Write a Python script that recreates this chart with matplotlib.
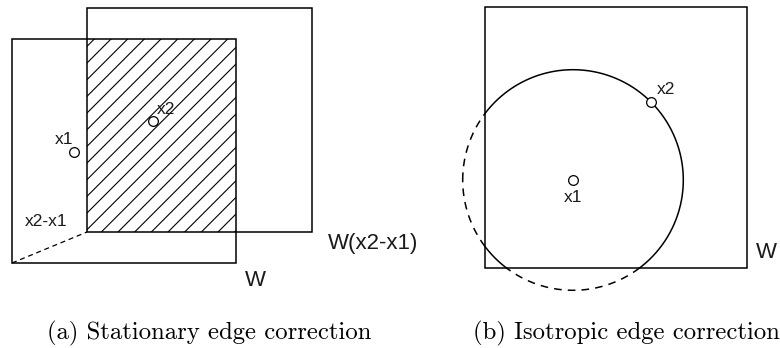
import numpy as np
import matplotlib
matplotlib.use("Agg")
import matplotlib.pyplot as plt
from matplotlib.patches import Rectangle

plt.rcParams['hatch.linewidth'] = 0.8

# left diagram: window W and its translate W(x2-x1), as (x0, y0, x1, y1) in pixels
win_w = [12, 39, 236, 263]
win_shift = [87, 8, 312, 232]
pt_a1 = (74, 152)
pt_a2 = (153, 121)

# right diagram: window, centre x1 and neighbour x2 on the circle
win_b = [485, 7, 747, 268]
pt_b1 = (573, 180)
pt_b2 = (651, 102)

captions = ["(a) Stationary edge correction", "(b) Isotropic edge correction"]
caption_x = [209, 626]

fig = plt.figure(figsize=(7.8, 3.48), dpi=100)
ax = fig.add_axes([0, 0, 1, 1])
ax.set_xlim(0, 780)
ax.set_ylim(348, 0)
ax.set_axis_off()

lab = dict(family='Liberation Sans', color='#1a1a1a', ha='center', va='center')
small = 12.5
big = 16


def box(r, **kw):
    ax.add_patch(Rectangle((r[0], r[1]), r[2] - r[0], r[3] - r[1],
                           fill=False, edgecolor='black', lw=1.1, **kw))


def point(p):
    ax.plot(*p, 'o', mfc='white', mec='black', ms=7, mew=0.9, zorder=5)


# --- stationary correction ---
box(win_w)
box(win_shift)
ix0, iy0 = max(win_w[0], win_shift[0]), max(win_w[1], win_shift[1])
ix1, iy1 = min(win_w[2], win_shift[2]), min(win_w[3], win_shift[3])
ax.add_patch(Rectangle((ix0, iy0), ix1 - ix0, iy1 - iy0, fill=False,
                       hatch='//', edgecolor='black', lw=0))
# translation vector from corner of W to corner of W(x2-x1)
ax.plot([win_w[0], win_shift[0]], [win_w[3], win_shift[3]], 'k--', lw=0.9,
        dashes=(4, 3))
point(pt_a1)
point(pt_a2)
ax.text(pt_a1[0] - 10, pt_a1[1] - 12, 'x1', fontsize=small, **lab)
ax.text(pt_a2[0] + 13, pt_a2[1] - 11, 'x2', fontsize=small, **lab)
ax.text(46, 221, 'x2-x1', fontsize=small, **lab)
ax.text(373, 244, 'W(x2-x1)', fontsize=big, **lab)
ax.text(255, 280, 'W', fontsize=big, **lab)

# --- isotropic correction ---
box(win_b)
r = np.hypot(pt_b2[0] - pt_b1[0], pt_b2[1] - pt_b1[1])
th = np.linspace(np.pi, 3 * np.pi, 2000)
cx = pt_b1[0] + r * np.cos(th)
cy = pt_b1[1] + r * np.sin(th)
inside = (cx >= win_b[0]) & (cx <= win_b[2]) & (cy >= win_b[1]) & (cy <= win_b[3])
ax.plot(np.where(inside, cx, np.nan), cy, 'k-', lw=1.1)
ax.plot(np.where(~inside, cx, np.nan), cy, 'k-', lw=1.1, dashes=(5, 4))
point(pt_b1)
point(pt_b2)
ax.text(pt_b1[0], pt_b1[1] + 17, 'x1', fontsize=small, **lab)
ax.text(pt_b2[0] + 15, pt_b2[1] - 13, 'x2', fontsize=small, **lab)
ax.text(766, 253, 'W', fontsize=big, **lab)

for x, c in zip(caption_x, captions):
    ax.text(x, 333, c, fontsize=17.8, family='cmr10', ha='center', va='center')

fig.savefig('out.png', dpi=100)
